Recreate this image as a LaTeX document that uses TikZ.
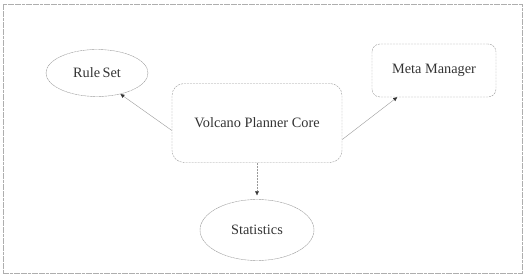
\documentclass[tikz,border=0pt]{standalone}
\usepackage{fontspec}
\setmainfont{Liberation Serif}
\usetikzlibrary{shapes.geometric,arrows.meta}

\definecolor{linegray}{HTML}{9A9A9A}
\definecolor{textgray}{HTML}{333333}

\begin{document}
\begin{tikzpicture}[x=1pt, y=1pt,
    >={Triangle[length=4pt, width=3.6pt, color=textgray]},
    font=\fontsize{14.3}{16}\selectfont, text=textgray]
    \tikzstyle{module} = [draw=linegray, thin, dash pattern=on 2pt off 1pt,
	rounded corners=8pt, inner sep=0pt, align=center]
    \tikzstyle{part} = [draw=linegray, thin, dash pattern=on 2.5pt off 0.5pt,
	ellipse, inner sep=0pt]
    \tikzstyle{link} = [->, draw=linegray, thin]

	\useasboundingbox (0,0) rectangle (527,280);
	\draw[linegray!80, thin, dash pattern=on 3pt off 0.6pt] (3,7) rectangle (522,276);

	\begin{scope}
		\path
			node[module, rounded corners=12pt, minimum width=170pt,
			     minimum height=79pt] (core) at (257,157) {Volcano Planner Core}
			node[part, minimum width=102pt, minimum height=47pt]
			     (rules) at (97,207) {Rule\,Set}
			node[module, minimum width=124pt, minimum height=53pt]
			     (meta) at (434,209.5) {Meta Manager}
			node[part, minimum width=114pt, minimum height=61pt]
			     (stats) at (257,50) {Statistics}

			(core.185) edge[link] (rules.-42)
			(core.-11) edge[link] (meta.216)
			(core.south) edge[link, dash pattern=on 2pt off 1pt, shorten >=4pt] (stats.north)
		;
	\end{scope}
\end{tikzpicture}
\end{document}
